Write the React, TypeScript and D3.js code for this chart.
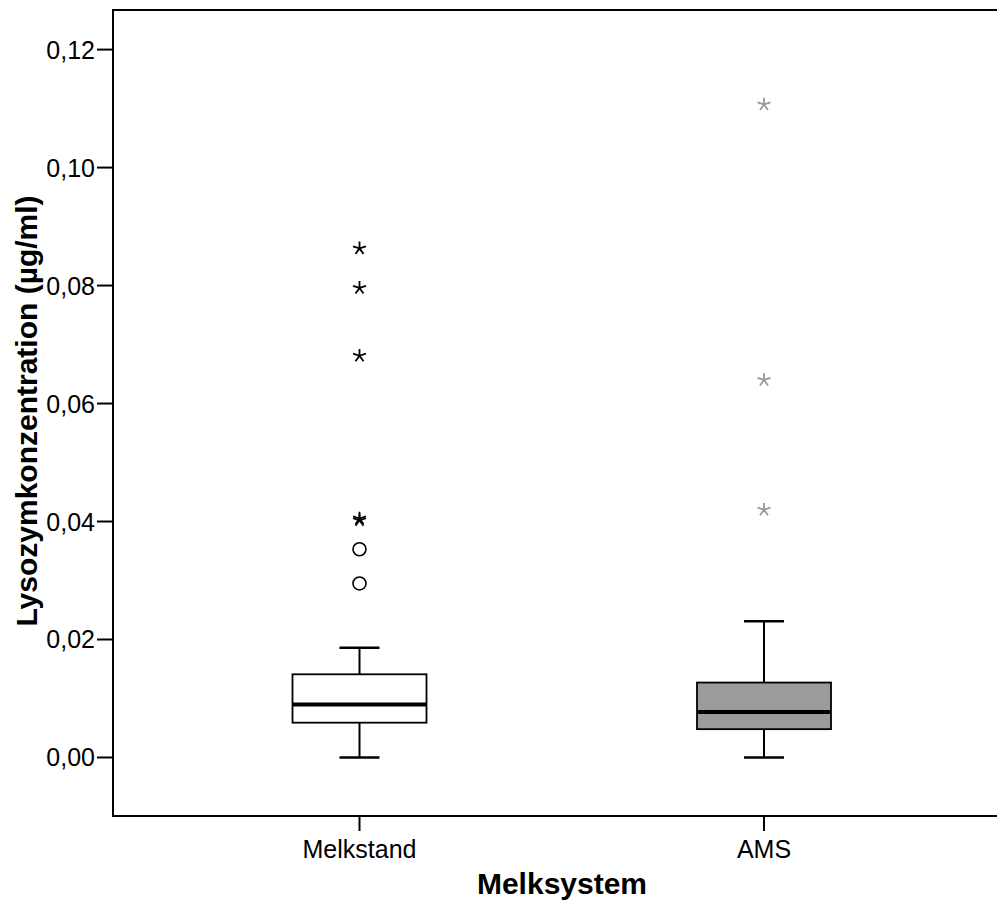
import React from "react";
import * as d3 from "d3";

const categories = ["Melkstand", "AMS"];
const whiskerLow = [0.0, 0.0];
const q1 = [0.0059, 0.0048];
const median = [0.0090, 0.0077];
const q3 = [0.0141, 0.0127];
const whiskerHigh = [0.0186, 0.0231];
const outliersMelkstand = [0.0353, 0.0295];
const extremesMelkstand = [0.0863, 0.0796, 0.0681, 0.0405, 0.0402];
const outliersAMS: number[] = [];
const extremesAMS = [0.1107, 0.0640, 0.0420];
const yTicks = [0.0, 0.02, 0.04, 0.06, 0.08, 0.1, 0.12];

const boxFill = ["#ffffff", "#9b9b9b"];
const markColor = ["#000000", "#999999"];

const W = 997;
const H = 903;
const left = 113;
const top = 10;
const bottom = 816;

export default function App() {
  const y = d3.scaleLinear().domain([-0.00992, 0.12671]).range([bottom, top]);
  const x = d3.scalePoint<string>().domain(categories).range([359.5, 764]);
  const boxW = 134;
  const capW = 40;
  const fmt = (v: number) => d3.format(".2f")(v).replace(".", ",");

  const starPath = (r: number) => {
    const angles = d3.range(5).map((i) => -Math.PI / 2 + (i * 2 * Math.PI) / 5);
    return angles.map((a) => `M0,0L${r * Math.cos(a)},${r * Math.sin(a)}`).join("");
  };

  const outliers = [outliersMelkstand, outliersAMS];
  const extremes = [extremesMelkstand, extremesAMS];

  return (
    <svg width={W} height={H} style={{ position: "absolute", left: 0, top: 0, background: "#fff" }}
      fontFamily="'Liberation Sans', Arial, sans-serif">
      {/* frame */}
      <line x1={left} x2={W} y1={top} y2={top} stroke="#000" strokeWidth={2} />
      <line x1={left} x2={W} y1={bottom} y2={bottom} stroke="#000" strokeWidth={2} />
      <line x1={left} x2={left} y1={top - 1} y2={bottom + 1} stroke="#000" strokeWidth={2} />
      {/* y ticks */}
      {yTicks.map((t) => (
        <g key={t} transform={`translate(0,${y(t)})`}>
          <line x1={97} x2={left} stroke="#000" strokeWidth={2} />
          <text x={95} dy="0.36em" textAnchor="end" fontSize={25}>{fmt(t)}</text>
        </g>
      ))}
      {/* x ticks */}
      {categories.map((c) => (
        <g key={c} transform={`translate(${x(c)},0)`}>
          <line y1={bottom} y2={bottom + 15} stroke="#000" strokeWidth={2} />
          <text y={858} textAnchor="middle" fontSize={25}>{c}</text>
        </g>
      ))}
      {/* boxes */}
      {categories.map((c, i) => {
        const cx = x(c) as number;
        return (
          <g key={c}>
            <line x1={cx} x2={cx} y1={y(whiskerLow[i])} y2={y(q1[i])} stroke="#000" strokeWidth={2} />
            <line x1={cx} x2={cx} y1={y(q3[i])} y2={y(whiskerHigh[i])} stroke="#000" strokeWidth={2} />
            <line x1={cx - capW / 2} x2={cx + capW / 2} y1={y(whiskerLow[i])} y2={y(whiskerLow[i])} stroke="#000" strokeWidth={2.5} />
            <line x1={cx - capW / 2} x2={cx + capW / 2} y1={y(whiskerHigh[i])} y2={y(whiskerHigh[i])} stroke="#000" strokeWidth={2.5} />
            <rect x={cx - boxW / 2} y={y(q3[i])} width={boxW} height={y(q1[i]) - y(q3[i])}
              fill={boxFill[i]} stroke="#000" strokeWidth={1.8} />
            <line x1={cx - boxW / 2} x2={cx + boxW / 2} y1={y(median[i])} y2={y(median[i])} stroke="#000" strokeWidth={4} />
            {outliers[i].map((v, j) => (
              <circle key={j} cx={cx} cy={y(v)} r={6.5} fill="none" stroke={markColor[i]} strokeWidth={1.6} />
            ))}
            {extremes[i].map((v, j) => (
              <path key={j} transform={`translate(${cx},${y(v)})`} d={starPath(6.8)} stroke={markColor[i]} strokeWidth={1.8} fill="none" />
            ))}
          </g>
        );
      })}
      {/* axis titles */}
      <text x={562} y={894} textAnchor="middle" fontSize={30} fontWeight="bold">Melksystem</text>
      <text transform="translate(37,411) rotate(-90)" textAnchor="middle" fontSize={30} fontWeight="bold">
        Lysozymkonzentration (µg/ml)
      </text>
    </svg>
  );
}
